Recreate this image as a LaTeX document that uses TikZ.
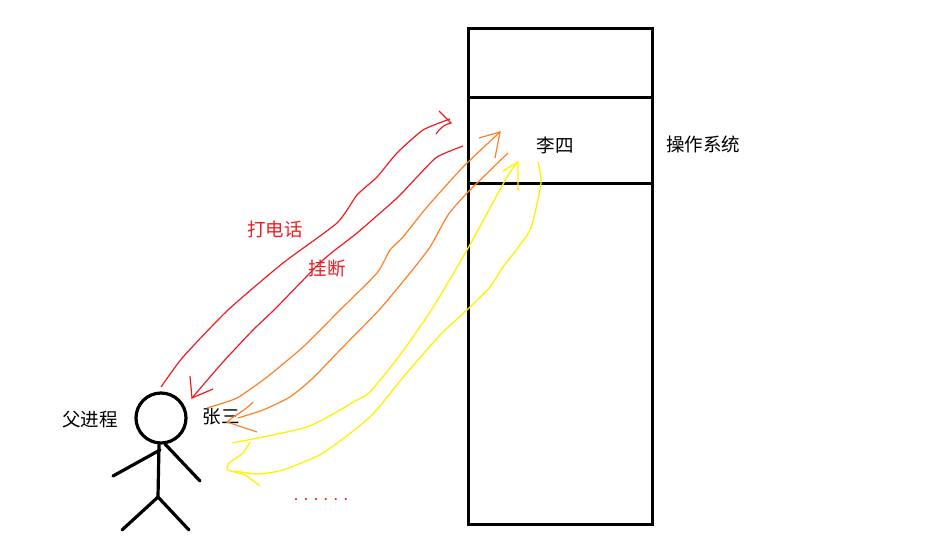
\documentclass[tikz,border=0pt]{standalone}
\usepackage{fontspec}
\setmainfont{Noto Sans CJK SC}
\usepackage{xcolor}
\definecolor{penred}{HTML}{ED1C24}
\definecolor{penorange}{HTML}{FF7F27}
\definecolor{penyellow}{HTML}{FFF200}
\tikzset{
  wall/.style={line width=3pt},
  limb/.style={line width=3.2pt, line cap=round},
  redpen/.style={penred, line width=1.2pt},
  orangepen/.style={penorange, line width=1.2pt},
  yellowpen/.style={penyellow, line width=1.3pt},
  label/.style={font=\fontsize{18.5}{20}\selectfont, inner sep=0pt}
}
\begin{document}
\begin{tikzpicture}[x=1pt,y=-1pt]
\useasboundingbox (0,0) rectangle (928,538);
% Operating system block
\draw[wall] (468,28) rectangle (652,524);
\draw[wall] (468,97) -- (652,97);
\draw[wall] (468,183) -- (652,183);
\node[label] (lisi) at (555,145) {李四};
\node[label] (os) at (703,144) {操作系统};

% Stick figure
\draw[limb] (161,418) circle (25);
\draw[limb] (159,445) -- (158,497);
\draw[limb] (160,450) -- (113,476);
\draw[limb] (165,444) -- (200,481);
\draw[limb] (158,497) -- (122,530);
\draw[limb] (158,497) -- (189,530);
\node[label] (parent) at (90,420) {父进程};
\node[label] (zhang) at (221,417) {张三};

% Red strokes
\draw[redpen] plot[smooth, tension=0.35] coordinates {(161,387) (183,357) (228,310) (283,263) (337,223) (357,195) (377,177) (397,153) (423,130) (450,119)};
\draw[redpen] (439,111) -- (451,123) .. controls (445,124) and (440,128) .. (436,134);
\draw[redpen] plot[smooth, tension=0.35] coordinates {(463,146) (437,157) (417,177) (397,198) (357,233) (323,260) (275,309) (253,330) (223,362) (192,398)};
\draw[redpen] (190,376) -- (192,398) -- (213,389);
\node[label, text=penred] (call) at (275,229) {打电话};
\node[label, text=penred] (hangup) at (327,268) {挂断};

% Orange strokes
\draw[orangepen] plot[smooth, tension=0.35] coordinates {(207,408) (237,398) (267,377) (303,347) (340,310) (377,273) (390,250) (403,237) (427,207) (463,167) (500,132)};
\draw[orangepen] (479,138) -- (500,132) -- (495,158);
\draw[orangepen] plot[smooth, tension=0.35] coordinates {(508,153) (467,193) (448,215) (430,247) (410,273) (380,309) (340,350) (313,378) (290,397) (263,410) (238,418)};
\draw[orangepen] (253,402) .. controls (245,411) and (236,414) .. (227,422) -- (257,432);

% Yellow strokes
\draw[yellowpen] plot[smooth, tension=0.35] coordinates {(232,443) (307,427) (357,400) (370,392) (400,355) (432,309) (467,250) (507,177) (518,162)};
\draw[yellowpen] (503,171) -- (518,162) -- (518,191);
\draw[yellowpen] plot[smooth, tension=0.35] coordinates {(538,162) (541,183) (530,230) (503,267) (490,287) (468,309) (440,335) (405,375) (370,417) (323,453) (283,470) (257,474) (235,471)};
\draw[yellowpen] plot[smooth, tension=0.35] coordinates {(250,442) (243,453) (229,463) (228,470) (245,475) (260,486)};

% Remaining dots
\node[label, text=penred, font=\bfseries\fontsize{10}{12}\selectfont] (more) at (321,500) {.\hspace{6.4pt}.\hspace{6.4pt}.\hspace{6.4pt}.\hspace{6.4pt}.\hspace{6.4pt}.};
\end{tikzpicture}
\end{document}
